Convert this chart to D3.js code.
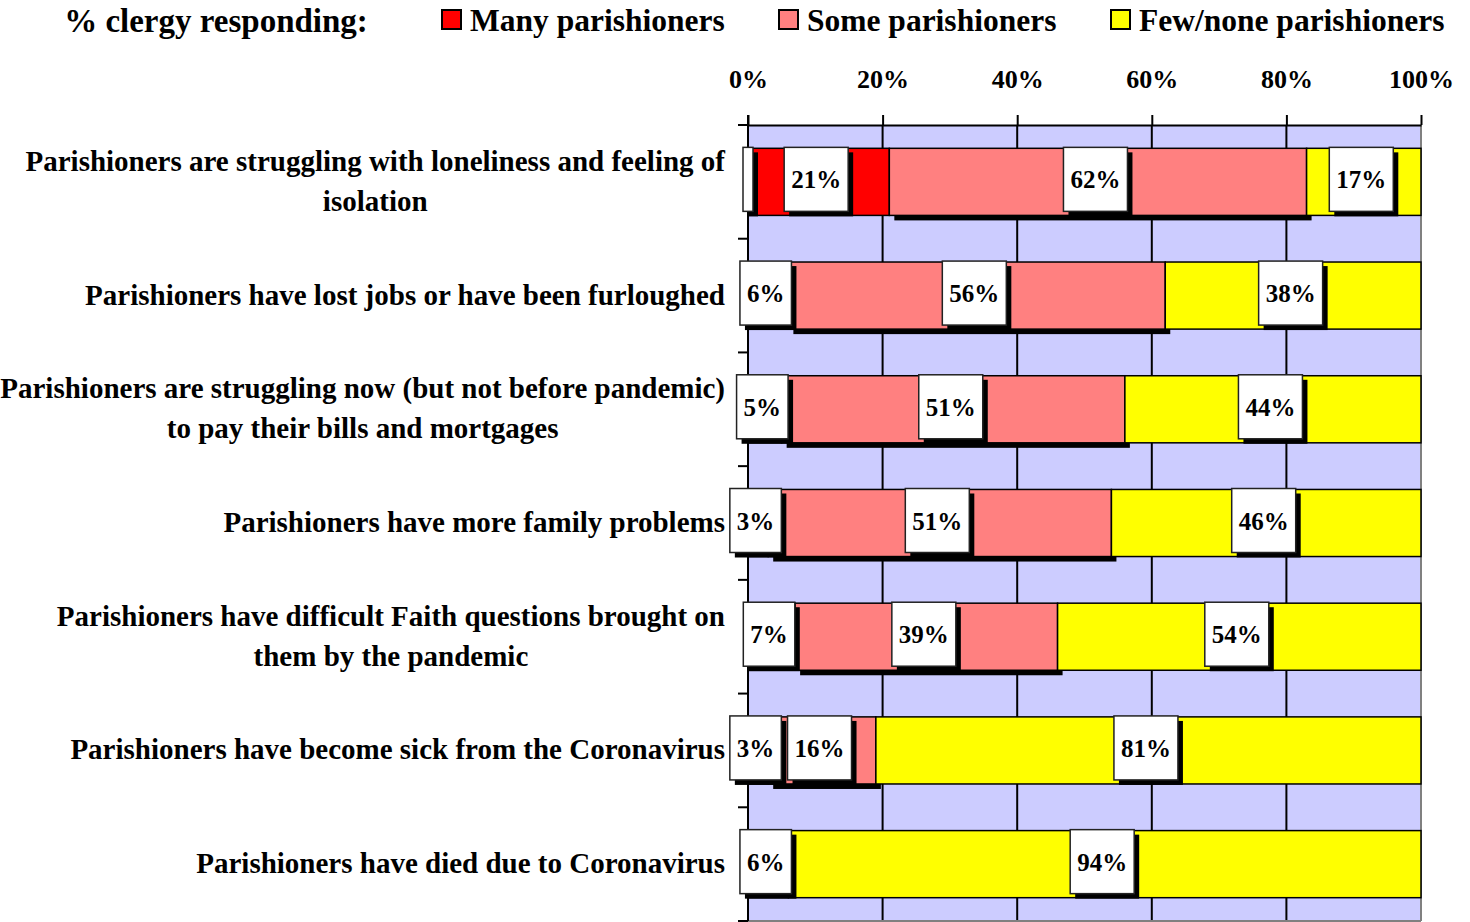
<!DOCTYPE html>
<html>
<head>
<meta charset="utf-8">
<script src="https://cdn.jsdelivr.net/npm/d3@7"></script>
<style>
  body { margin: 0; background: #fff; }
  text { font-family: "Liberation Serif", "Times New Roman", serif; font-weight: bold; fill: #000; }
</style>
</head>
<body>
<div id="chart"></div>
<script>
// data
var categories = [
    ["Parishioners are struggling with loneliness and feeling of", "isolation"],
    ["Parishioners have lost jobs or have been furloughed"],
    ["Parishioners are struggling now (but not before pandemic)", "to pay their bills and mortgages"],
    ["Parishioners have more family problems"],
    ["Parishioners have difficult Faith questions brought on", "them by the pandemic"],
    ["Parishioners have become sick from the Coronavirus"],
    ["Parishioners have died due to Coronavirus"]
];
var seriesNames = ["Many parishioners", "Some parishioners", "Few/none parishioners"];
var many = [21, 6, 5, 3, 7, 3, 6];
var some = [62, 56, 51, 51, 39, 16, 0];
var few = [17, 38, 44, 46, 54, 81, 94];
var tickValues = [0, 20, 40, 60, 80, 100];
var legendTitle = "% clergy responding:";

var width = 1470;
var height = 922;
var colors = ["#ff0000", "#ff8080", "#ffff00"];

var svg = d3.select("#chart").append("svg")
    .attr("width", width)
    .attr("height", height);

var x = d3.scaleLinear().domain([0, 100]).range([748, 1421]);
var y = d3.scaleBand()
    .domain(d3.range(categories.length))
    .range([125, 921])
    .paddingInner(0.41)
    .paddingOuter(0.205);

// stack the three series per row
var rows = categories.map(function(c, i) {
    return { i: i, vals: [many[i], some[i], few[i]] };
});
var stack = d3.stack().keys([0, 1, 2]).value(function(d, k) { return d.vals[k]; });
var layers = stack(rows);

// plot background
svg.append("rect")
    .attr("x", x(0)).attr("y", y.range()[0])
    .attr("width", x(100) - x(0)).attr("height", y.range()[1] - y.range()[0])
    .attr("fill", "#ccccff");

// grid lines
svg.selectAll(".grid").data(tickValues.slice(1)).enter()
    .append("line")
    .attr("x1", function(d) { return x(d); })
    .attr("x2", function(d) { return x(d); })
    .attr("y1", y.range()[0]).attr("y2", y.range()[1])
    .attr("stroke", function(d) { return d == 100 ? "#808080" : "#000"; })
    .attr("stroke-width", 2);
svg.append("line")
    .attr("x1", x(0)).attr("x2", x(100))
    .attr("y1", y.range()[1]).attr("y2", y.range()[1])
    .attr("stroke", "#808080").attr("stroke-width", 2);

// shadow under the "some" series
svg.append("g").selectAll("rect").data(layers[1]).enter()
    .append("rect")
    .filter(function(d) { return d[1] > d[0]; })
    .attr("x", function(d) { return x(d[0]) + 5; })
    .attr("y", function(d) { return y(d.data.i) + 5; })
    .attr("width", function(d) { return x(d[1]) - x(d[0]); })
    .attr("height", y.bandwidth())
    .attr("fill", "#000");

// bars
layers.forEach(function(layer, k) {
    svg.append("g").selectAll("rect").data(layer).enter()
        .append("rect")
        .filter(function(d) { return d[1] > d[0]; })
        .attr("x", function(d) { return x(d[0]); })
        .attr("y", function(d) { return y(d.data.i); })
        .attr("width", function(d) { return x(d[1]) - x(d[0]); })
        .attr("height", y.bandwidth())
        .attr("fill", colors[k])
        .attr("stroke", "#000")
        .attr("stroke-width", 1.5);
});

// axes
var xAxis = d3.axisTop(x)
    .tickValues(tickValues)
    .tickFormat(function(d) { return d + "%"; })
    .tickSize(10)
    .tickSizeOuter(0)
    .tickPadding(27);
var gx = svg.append("g")
    .attr("transform", "translate(0," + y.range()[0] + ")")
    .call(xAxis);
gx.select(".domain").attr("stroke", "#000").attr("stroke-width", 2);
gx.selectAll(".tick line").attr("stroke", "#000").attr("stroke-width", 2);
gx.selectAll(".tick text")
    .attr("font-size", 26)
    .attr("font-family", "Liberation Serif")
    .attr("font-weight", "bold")
    .attr("fill", "#000");

svg.append("line")
    .attr("x1", x(0)).attr("x2", x(0))
    .attr("y1", y.range()[0] - 10).attr("y2", y.range()[1])
    .attr("stroke", "#000").attr("stroke-width", 2);
var bounds = d3.range(categories.length + 1).map(function(i) {
    return y.range()[0] + i * y.step();
});
svg.selectAll(".ytick").data(bounds).enter()
    .append("line")
    .attr("x1", x(0) - 10).attr("x2", x(0))
    .attr("y1", function(d) { return d; })
    .attr("y2", function(d) { return d; })
    .attr("stroke", "#000").attr("stroke-width", 2);

// category labels (multi-line ones are centred as a block)
var labelRight = 725;
categories.forEach(function(lines, i) {
    var g = svg.append("g");
    var cy = y(i) + y.bandwidth() / 2;
    var ts = lines.map(function(l, j) {
        return g.append("text")
            .attr("font-size", 29)
            .attr("y", cy + (j - (lines.length - 1) / 2) * 40 + 9)
            .text(l);
    });
    var maxW = d3.max(ts, function(t) { return t.node().getComputedTextLength(); });
    ts.forEach(function(t) {
        t.attr("x", labelRight - maxW / 2).attr("text-anchor", "middle");
    });
});

// value labels in white boxes with drop shadow
var boxH = 64;
function valueBox(cx, cy, txt, fixedW) {
    var g = svg.append("g");
    var t = g.append("text")
        .attr("font-size", 25)
        .attr("text-anchor", "middle")
        .text(txt);
    var bw = fixedW || t.node().getComputedTextLength() + 14;
    var bx = cx - (bw + 5) / 2;
    var by = cy - (boxH + 5) / 2;
    g.insert("rect", "text")
        .attr("x", bx + 5).attr("y", by + 5)
        .attr("width", bw).attr("height", boxH)
        .attr("fill", "#000");
    g.insert("rect", "text")
        .attr("x", bx).attr("y", by)
        .attr("width", bw).attr("height", boxH)
        .attr("fill", "#fff")
        .attr("stroke", "#222")
        .attr("stroke-width", 1.5);
    t.attr("x", bx + bw / 2).attr("y", by + boxH / 2 + 9);
}

// stray empty label box on the first row
valueBox(x(0) + 2.5, y(0) + y.bandwidth() / 2, "", 10);

layers.forEach(function(layer) {
    layer.forEach(function(d) {
        if (d[1] <= d[0]) return;
        valueBox(x((d[0] + d[1]) / 2), y(d.data.i) + y.bandwidth() / 2, (d[1] - d[0]) + "%");
    });
});

// legend
svg.append("text")
    .attr("x", 216).attr("y", 32)
    .attr("text-anchor", "middle")
    .attr("font-size", 33)
    .text(legendTitle);
var legendX = [442, 779, 1111];
seriesNames.forEach(function(name, k) {
    svg.append("rect")
        .attr("x", legendX[k]).attr("y", 10)
        .attr("width", 19).attr("height", 19)
        .attr("fill", colors[k])
        .attr("stroke", "#000").attr("stroke-width", 2);
    svg.append("text")
        .attr("x", legendX[k] + 28).attr("y", 31)
        .attr("font-size", 31.5)
        .text(name);
});
</script>
</body>
</html>
